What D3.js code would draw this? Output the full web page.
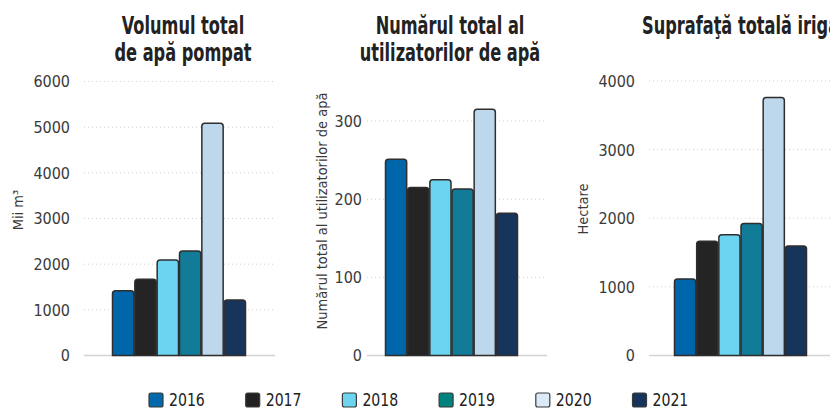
<!DOCTYPE html>
<html>
<head>
<meta charset="utf-8">
<script src="https://cdn.jsdelivr.net/npm/d3@7"></script>
<style>
  body { margin: 0; background: #fff; }
  svg text { font-family: "DejaVu Sans Condensed", "DejaVu Sans", sans-serif; font-stretch: condensed; }
</style>
</head>
<body>
<div id="chart"></div>
<script>
const years = ["2016", "2017", "2018", "2019", "2020", "2021"];
const barColors = ["#0066ab", "#242424", "#6cd4f0", "#127b97", "#bdd7ed", "#17345b"];
const legendColors = ["#0068ac", "#222222", "#6dd4f0", "#00837f", "#dce9f6", "#17345b"];

const volumValues = [1420, 1670, 2090, 2290, 5085, 1215];
const utilizatoriValues = [251, 215, 225, 213, 315, 182];
const suprafataValues = [1115, 1665, 1760, 1925, 3760, 1595];

const volumTicks = [0, 1000, 2000, 3000, 4000, 5000, 6000];
const utilizatoriTicks = [0, 100, 200, 300];
const suprafataTicks = [0, 1000, 2000, 3000, 4000];

const panels = [
    { title: ["Volumul total", "de apă pompat"], ylabel: "Mii m³", values: volumValues, ticks: volumTicks,
      max: 6000, top: 81.5, gx: [84, 273], bx: [112, 246], pad: 14, tx: 183, anchor: "middle", lx: 18, ly: 210 },
    { title: ["Numărul total al", "utilizatorilor de apă"], ylabel: "Numărul total al utilizatorilor de apă", values: utilizatoriValues, ticks: utilizatoriTicks,
      max: 300, top: 121, gx: [367, 545], bx: [385, 518], pad: 5, tx: 450, anchor: "middle", lx: 322, ly: 211 },
    { title: ["Suprafaţă totală irigată"], ylabel: "Hectare", values: suprafataValues, ticks: suprafataTicks,
      max: 4000, top: 81, gx: [649, 832], bx: [674, 807], pad: 14, tx: 642, anchor: "start", lx: 583, ly: 209 }
];

const W = 830, H = 409, base = 355.5;

const svg = d3.select("#chart").append("svg")
    .attr("width", W)
    .attr("height", H);

// rounded-top bar path
const barPath = (x, y, w, h, r) => {
    r = Math.min(r, h);
    return `M${x},${y + h}V${y + r}Q${x},${y} ${x + r},${y}H${x + w - r}Q${x + w},${y} ${x + w},${y + r}V${y + h}Z`;
};

panels.forEach(p => {
    const g = svg.append("g");

    let y = d3.scaleLinear().domain([0, p.max]).range([base, p.top]);
    let x = d3.scaleBand().domain(years).range(p.bx).paddingInner(0);

    // gridlines
    g.selectAll(".grid")
        .data(p.ticks.filter(t => t > 0))
        .enter()
        .append("line")
        .attr("x1", p.gx[0]).attr("x2", p.gx[1])
        .attr("y1", d => y(d)).attr("y2", d => y(d))
        .attr("stroke", "#cfcfcf")
        .attr("stroke-width", 1)
        .attr("stroke-dasharray", "1,3");

    // baseline
    g.append("line")
        .attr("x1", p.gx[0]).attr("x2", p.gx[1] + 2)
        .attr("y1", y(0)).attr("y2", y(0))
        .attr("stroke", "#d4d4d4")
        .attr("stroke-width", 1.5);

    // axis
    const axis = g.append("g")
        .attr("transform", "translate(" + (p.gx[0] - p.pad) + ",0)")
        .call(d3.axisLeft(y).tickValues(p.ticks).tickFormat(d3.format("d")).tickSize(0).tickPadding(0));
    axis.select(".domain").remove();
    axis.selectAll("text")
        .attr("fill", "#3a3a3a")
        .style("font-size", "16px")
        .attr("dy", "0.34em");

    // bars
    g.selectAll(".bar")
        .data(p.values)
        .enter()
        .append("path")
        .attr("d", (d, i) => barPath(x(years[i]) + 0.5, y(d), x.bandwidth() - 1, y(0) - y(d), 3))
        .attr("fill", (d, i) => barColors[i])
        .attr("stroke", "#2e2e2e")
        .attr("stroke-width", 1.5);

    // title (squeezed to mimic a condensed bold face)
    p.title.forEach((t, i) => {
        g.append("g")
            .attr("transform", "translate(" + p.tx + "," + (34 + i * 27) + ") scale(0.75,1)")
            .append("text")
            .attr("text-anchor", p.anchor)
            .attr("fill", "#222")
            .style("font-size", "24px")
            .style("font-weight", "bold")
            .text(t);
    });

    // y label
    g.append("text")
        .attr("transform", "translate(" + p.lx + "," + p.ly + ") rotate(-90)")
        .attr("text-anchor", "middle")
        .attr("dy", "0.35em")
        .attr("fill", "#3a3a3a")
        .style("font-size", "14.5px")
        .text(p.ylabel);
});

// legend
const legend = svg.append("g");
years.forEach((yr, i) => {
    const lx = 149 + i * 96.7;
    legend.append("rect")
        .attr("x", lx).attr("y", 393)
        .attr("width", 14).attr("height", 14)
        .attr("rx", 2)
        .attr("fill", legendColors[i])
        .attr("stroke", "#3a3a3a")
        .attr("stroke-width", 1.2);
    legend.append("g")
        .attr("transform", "translate(" + (lx + 20) + ",406) scale(0.87,1)")
        .append("text")
        .attr("fill", "#222")
        .style("font-size", "18px")
        .text(yr);
});
</script>
</body>
</html>
